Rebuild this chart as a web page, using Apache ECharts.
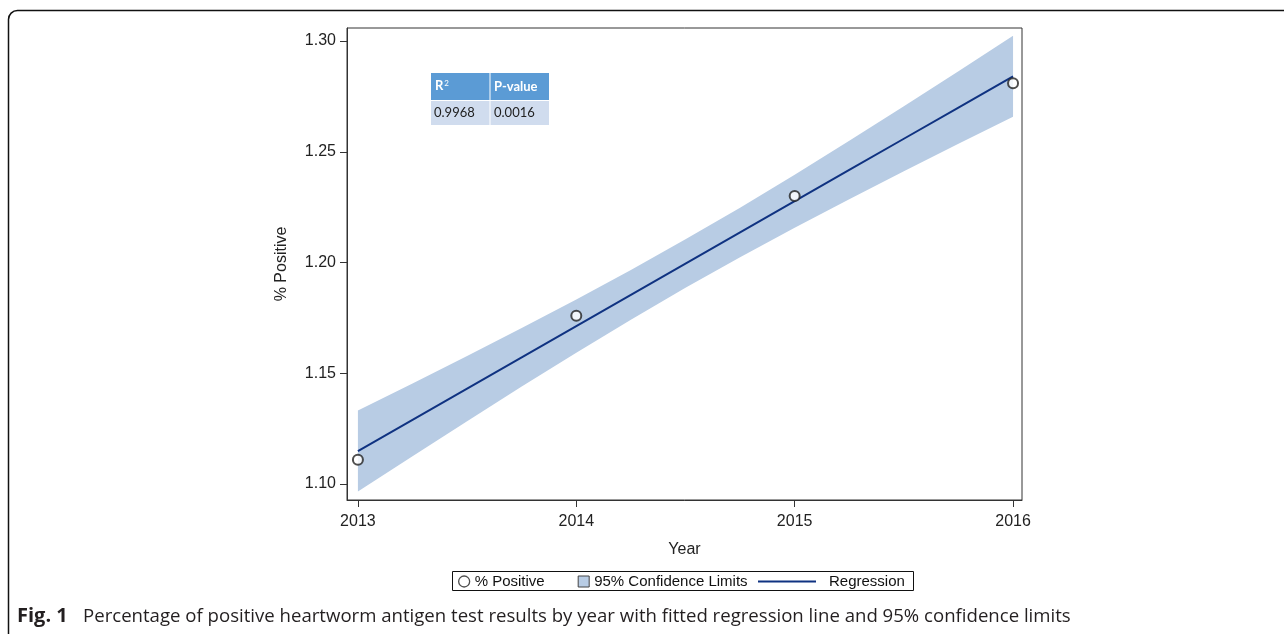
<!DOCTYPE html>
<html>
<head>
<meta charset="utf-8">
<script src="https://cdn.jsdelivr.net/npm/echarts@6/dist/echarts.min.js"></script>
<style>
html,body{margin:0;padding:0;background:#fff;}
#c{width:1284px;height:634px;}
</style>
</head>
<body>
<div id="c"></div>
<script>
// ---- data ----
const years = [2013, 2014, 2015, 2016];
const pctPositive = [1.111, 1.176, 1.230, 1.281];
const bandX = [2013, 2013.25, 2013.5, 2013.75, 2014, 2014.25, 2014.5, 2014.75, 2015, 2015.25, 2015.5, 2015.75, 2016];
const regression = [1.1149, 1.1290, 1.1431, 1.1572, 1.1713, 1.1854, 1.1995, 1.2136, 1.2277, 1.2418, 1.2559, 1.2700, 1.2841];
const upperCL = [1.1332, 1.1454, 1.1578, 1.1704, 1.1833, 1.1966, 1.2105, 1.2248, 1.2397, 1.2550, 1.2706, 1.2864, 1.3024];
const lowerCL = [1.0966, 1.1126, 1.1284, 1.1440, 1.1593, 1.1742, 1.1886, 1.2024, 1.2157, 1.2286, 1.2412, 1.2536, 1.2658];
const xTicks = [2013, 2014, 2015, 2016];
const yTicks = [1.10, 1.15, 1.20, 1.25, 1.30];
const statHeaders = ['R', 'P-value'];
const statValues = ['0.9968', '0.0016'];

const chart = echarts.init(document.getElementById('c'));
const axisFont = 'Liberation Sans, Arial, sans-serif';
const bandColor = '#b8cce4';
const lineColor = '#0f3281';

const option = {
  animation: false,
  backgroundColor: '#fff',
  grid: { left: 347, top: 28, width: 675, height: 472, show: true, borderColor: '#333', borderWidth: 1, backgroundColor: 'transparent' },
  xAxis: {
    type: 'value', min: 2012.95, max: 2016.041,
    name: 'Year', nameLocation: 'middle', nameGap: 42,
    nameTextStyle: { fontFamily: axisFont, fontSize: 16, color: '#222' },
    axisLine: { show: true, lineStyle: { color: '#333' } },
    splitLine: { show: false },
    axisTick: { show: true, length: 7, customValues: xTicks, lineStyle: { color: '#333' } },
    axisLabel: { customValues: xTicks, margin: 14, fontFamily: axisFont, fontSize: 16, color: '#222', formatter: v => String(Math.round(v)) }
  },
  yAxis: {
    type: 'value', min: 1.0928, max: 1.3059,
    name: '% Positive', nameLocation: 'middle', nameGap: 57, nameRotate: 90,
    nameTextStyle: { fontFamily: axisFont, fontSize: 16, color: '#222' },
    axisLine: { show: true, lineStyle: { color: '#333' } },
    splitLine: { show: false },
    axisTick: { show: true, length: 7, customValues: yTicks, lineStyle: { color: '#333' } },
    axisLabel: { customValues: yTicks, margin: 11, fontFamily: axisFont, fontSize: 16, color: '#222', formatter: v => v.toFixed(2) }
  },
  legend: [
    {
      left: 458, top: 574, itemGap: 33, itemWidth: 11, itemHeight: 11, padding: 0,
      textStyle: { fontFamily: axisFont, fontSize: 15, color: '#111' },
      data: [
        { name: '% Positive', icon: 'circle', itemStyle: { color: '#fff', borderColor: '#222', borderWidth: 1.3 } },
        { name: '95% Confidence Limits', icon: 'rect', itemStyle: { color: bandColor, borderColor: '#444', borderWidth: 1 } }
      ]
    },
    {
      left: 758, top: 574, itemWidth: 58, itemHeight: 11, padding: 0,
      textStyle: { fontFamily: axisFont, fontSize: 15, color: '#111', padding: [0, 0, 0, 8] },
      data: [{ name: 'Regression', icon: 'path://M0,0 L58,0 L58,2 L0,2 Z', itemStyle: { color: lineColor } }]
    }
  ],
  series: [
    {
      name: '95% Confidence Limits', type: 'custom', z: 1, silent: true,
      itemStyle: { color: bandColor },
      data: bandX.map((x, i) => [x, lowerCL[i], upperCL[i]]),
      encode: { x: 0, y: [1, 2] },
      renderItem: function (params, api) {
        if (params.dataIndex !== 0) return null;
        const pts = [];
        for (let i = 0; i < bandX.length; i++) pts.push(api.coord([bandX[i], upperCL[i]]));
        for (let i = bandX.length - 1; i >= 0; i--) pts.push(api.coord([bandX[i], lowerCL[i]]));
        return { type: 'polygon', shape: { points: pts }, style: { fill: bandColor } };
      }
    },
    {
      name: 'Regression', type: 'line', symbol: 'none', showSymbol: false,
      itemStyle: { color: lineColor },
      lineStyle: { color: lineColor, width: 2 },
      data: bandX.map((x, i) => [x, regression[i]]), z: 3
    },
    {
      name: '% Positive', type: 'scatter', symbol: 'emptyCircle', symbolSize: 10,
      itemStyle: { color: '#222', borderColor: '#222', borderWidth: 1.3 },
      data: years.map((y, i) => [y, pctPositive[i]]), z: 4
    }
  ],
  graphic: [
    // outer rounded frame
    { type: 'rect', shape: { x: 8.5, y: 10.5, width: 1320, height: 700, r: 9 }, style: { fill: 'none', stroke: '#111', lineWidth: 1.5 }, silent: true },
    // legend border
    { type: 'rect', shape: { x: 452.5, y: 571.5, width: 461, height: 19 }, style: { fill: 'none', stroke: '#111', lineWidth: 1 }, silent: true },
    // stats table
    { type: 'rect', shape: { x: 431, y: 73, width: 118, height: 27 }, style: { fill: '#5b9bd5' }, z: 10 },
    { type: 'rect', shape: { x: 431, y: 101, width: 118, height: 24 }, style: { fill: '#d0dcee' }, z: 10 },
    { type: 'rect', shape: { x: 489.5, y: 73, width: 1, height: 52 }, style: { fill: '#ffffff' }, z: 11 },
    { type: 'text', left: 435, top: 79, z: 12, style: { text: '{b|' + statHeaders[0] + '}{s|2}', rich: { b: { fontFamily: 'Lato, Open Sans, sans-serif', fontSize: 13, fontWeight: 'bold', fill: '#fff' }, s: { fontFamily: 'Lato, Open Sans, sans-serif', fontSize: 8, fill: '#fff', verticalAlign: 'top', padding: [0, 0, 6, 1] } } } },
    { type: 'text', left: 494, top: 80, z: 12, style: { text: statHeaders[1], fontFamily: 'Lato, Open Sans, sans-serif', fontSize: 13, fontWeight: 'bold', fill: '#fff' } },
    { type: 'text', left: 434, top: 106, z: 12, style: { text: statValues[0], fontFamily: 'Lato, Open Sans, sans-serif', fontSize: 13, fill: '#222' } },
    { type: 'text', left: 494, top: 106, z: 12, style: { text: statValues[1], fontFamily: 'Lato, Open Sans, sans-serif', fontSize: 13, fill: '#222' } },
    // caption
    { type: 'text', left: 17, top: 606, style: { text: 'Fig. 1', fontFamily: 'Open Sans, sans-serif', fontSize: 20, fontWeight: 'bold', fill: '#231f20' } },
    { type: 'text', left: 83, top: 607, style: { text: 'Percentage of positive heartworm antigen test results by year with fitted regression line and 95% confidence limits', fontFamily: 'Open Sans, sans-serif', fontSize: 18.6, fill: '#231f20' } }
  ]
};
chart.setOption(option);
</script>
</body>
</html>
